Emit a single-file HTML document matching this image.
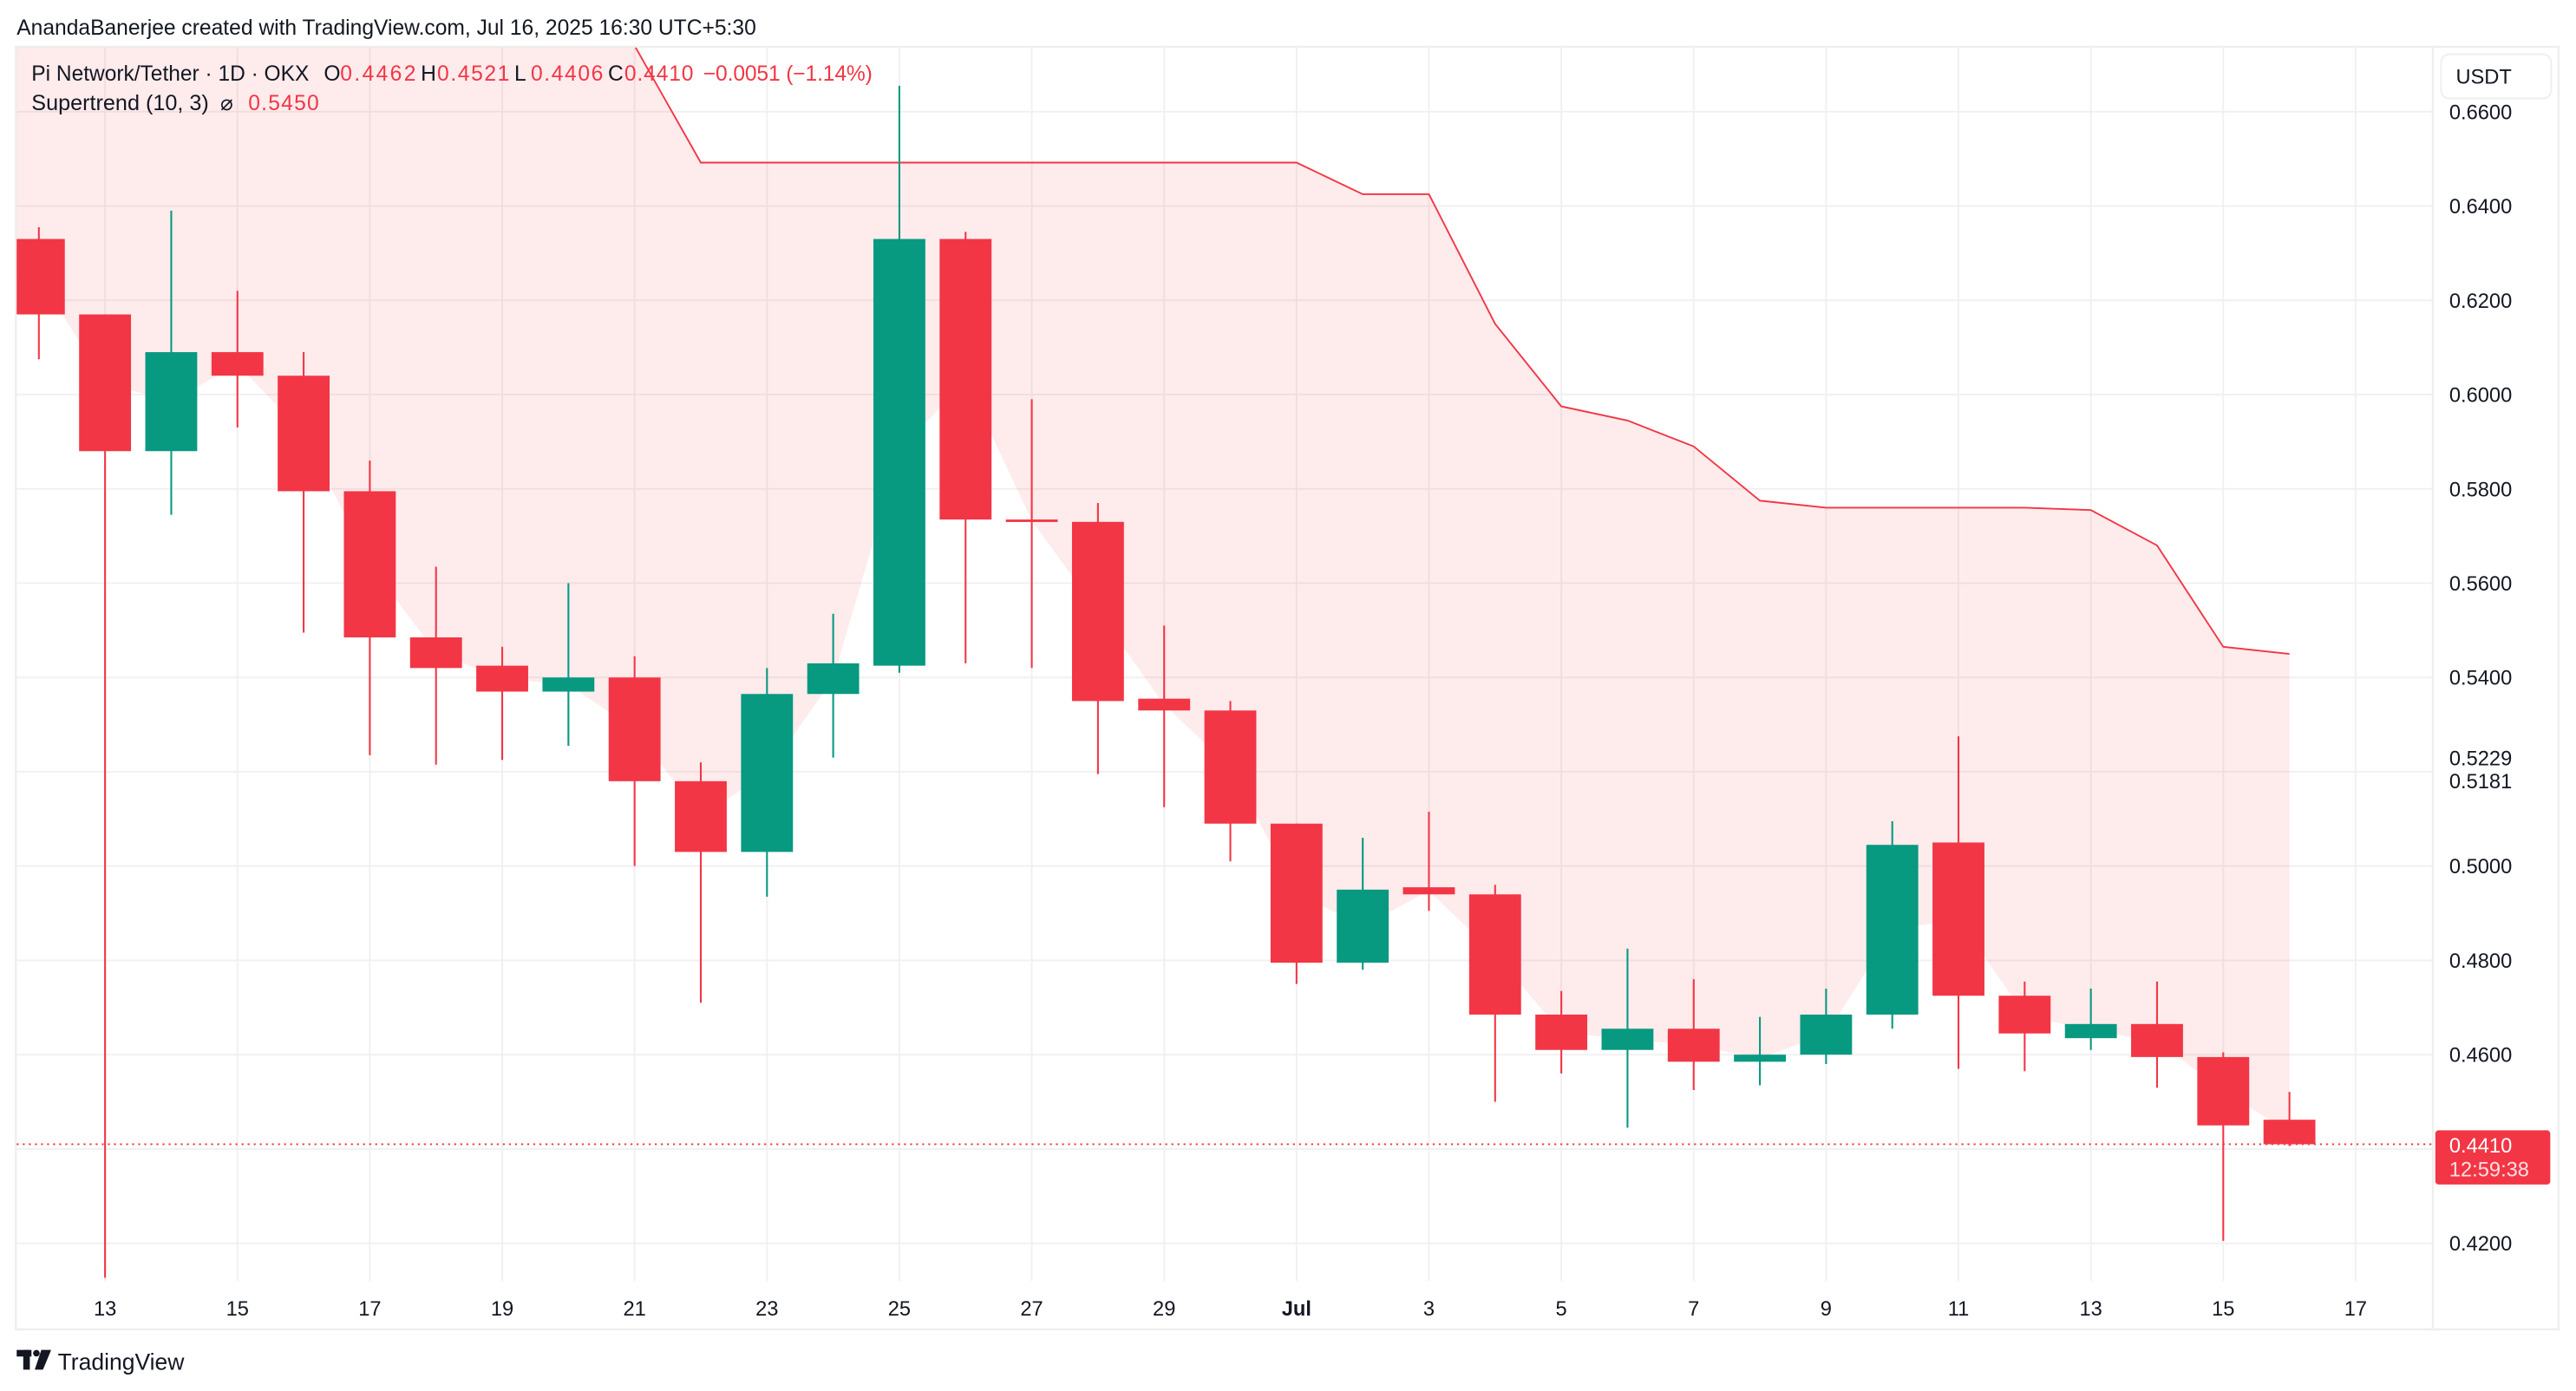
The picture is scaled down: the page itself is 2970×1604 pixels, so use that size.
<!DOCTYPE html>
<html><head><meta charset="utf-8">
<style>
html,body{margin:0;padding:0;background:#fff;width:2970px;height:1604px;overflow:hidden}
svg{display:block}
text{font-family:"Liberation Sans",sans-serif}
</style></head>
<body>
<svg id="chart" width="2970" height="1604" viewBox="0 0 1568 847" xmlns="http://www.w3.org/2000/svg">
<rect x="0" y="0" width="1568" height="847" fill="#fff"/>
<text x="10" y="21" font-size="13" fill="#131722">AnandaBanerjee created with TradingView.com, Jul 16, 2025 16:30 UTC+5:30</text>
<rect x="9.5" y="28.5" width="1548" height="781" fill="none" stroke="#eeeeee" stroke-width="1.2"/>
<line x1="1481" y1="28" x2="1481" y2="809" stroke="#eeeeee" stroke-width="1.2"/>
<defs><clipPath id="pane"><rect x="10" y="29" width="1471" height="751"/></clipPath></defs>
<g id="grid"></g>
<g id="plot" clip-path="url(#pane)"></g>
<g id="axes"></g>
<g font-size="13">
<text x="19" y="49" fill="#131722" textLength="169" lengthAdjust="spacingAndGlyphs">Pi Network/Tether · 1D · OKX</text>
<text x="197" y="49" fill="#131722">O</text><text x="207" y="49" fill="#f23645" textLength="46">0.4462</text>
<text x="256" y="49" fill="#131722">H</text><text x="266" y="49" fill="#f23645" textLength="44">0.4521</text>
<text x="313" y="49" fill="#131722">L</text><text x="323" y="49" fill="#f23645" textLength="44">0.4406</text>
<text x="370" y="49" fill="#131722">C</text><text x="380" y="49" fill="#f23645" textLength="42">0.4410</text>
<text x="428" y="49" fill="#f23645" textLength="103">−0.0051 (−1.14%)</text>
<text x="19" y="67" fill="#131722" textLength="108" lengthAdjust="spacingAndGlyphs">Supertrend (10, 3)</text>
<text x="134" y="67" fill="#131722">⌀</text>
<text x="151" y="67" fill="#f23645" textLength="43">0.5450</text>
</g>
<g>
<rect x="1486" y="33" width="67" height="27" rx="5" fill="#fff" stroke="#eeeeee"/>
<text x="1495" y="51" font-size="12.5" fill="#131722">USDT</text>
</g>
<g>
<rect x="10" y="822" width="9" height="4" fill="#131722"/><rect x="14" y="822" width="4" height="12" fill="#131722"/>
<circle cx="22" cy="824" r="2" fill="#131722"/><polygon points="25,822 31,822 26,834 21,834" fill="#131722"/>
<text x="35" y="834" font-size="14" fill="#131722">TradingView</text>
</g>
</svg>
<script>
const dates = ["12","13","14","15","16","17","18","19","20","21","22","23","24","25","26","27","28","29","30","Jul","2","3","4","5","6","7","8","9","10","11","12","13","14","15","16"];
const opens  = [0.6330,0.6170,0.5880,0.6090,0.6040,0.5795,0.5485,0.5425,0.5370,0.5400,0.5180,0.5030,0.5365,0.5425,0.6330,0.5735,0.5730,0.5355,0.5330,0.5090,0.4795,0.4955,0.4940,0.4685,0.4610,0.4655,0.4585,0.4600,0.4685,0.5050,0.4725,0.4635,0.4665,0.4595,0.4462];
const highs  = [0.6355,0.6170,0.6390,0.6220,0.6090,0.5860,0.5635,0.5465,0.5600,0.5445,0.5220,0.5420,0.5535,0.6655,0.6345,0.5990,0.5770,0.5510,0.5350,0.5090,0.5060,0.5115,0.4960,0.4735,0.4825,0.4760,0.4680,0.4740,0.5095,0.5275,0.4755,0.4740,0.4755,0.4605,0.4521];
const lows   = [0.6075,0.4127,0.5745,0.5930,0.5495,0.5235,0.5215,0.5225,0.5255,0.5000,0.4710,0.4935,0.5230,0.5410,0.5430,0.5420,0.5195,0.5125,0.5010,0.4750,0.4780,0.4905,0.4500,0.4560,0.4445,0.4525,0.4535,0.4580,0.4655,0.4570,0.4565,0.4610,0.4530,0.4205,0.4406];
const closes = [0.6170,0.5880,0.6090,0.6040,0.5795,0.5485,0.5420,0.5370,0.5400,0.5180,0.5030,0.5365,0.5430,0.6330,0.5735,0.5730,0.5350,0.5330,0.5090,0.4795,0.4950,0.4940,0.4685,0.4610,0.4655,0.4585,0.4600,0.4685,0.5045,0.4725,0.4645,0.4665,0.4595,0.4450,0.4410];
const supertrend = [0.7300,0.7250,0.7200,0.7150,0.7100,0.7000,0.6900,0.6850,0.6800,0.6740,0.6492,0.6492,0.6492,0.6492,0.6492,0.6492,0.6492,0.6492,0.6492,0.6492,0.6425,0.6425,0.6150,0.5975,0.5945,0.5890,0.5775,0.5760,0.5760,0.5760,0.5760,0.5755,0.5680,0.5465,0.5450];
const priceTicks = [0.66,0.64,0.62,0.60,0.58,0.56,0.54,0.50,0.48,0.46,0.42];
const extraPriceLabels = [0.5229,0.5181];
const lastPrice = 0.4410;
const countdown = "12:59:38";

const NS="http://www.w3.org/2000/svg";
const xOf = i => 23.5 + 40.3*i;
const yOf = p => 68 + (0.66 - p)/0.02*57.42;
function mk(tag, attrs, parent){const e=document.createElementNS(NS,tag);for(const k in attrs)e.setAttribute(k,attrs[k]);parent.appendChild(e);return e;}
const grid=document.getElementById('grid'), plot=document.getElementById('plot'), axes=document.getElementById('axes');
const UP="#089981", DN="#f23645";

for(let p=0.42;p<=0.6601;p+=0.02){
  const l=mk('line',{x1:10,x2:1481,y1:yOf(p),y2:yOf(p),stroke:"#f0f0f0","stroke-width":1},grid);
  
  
}
priceTicks.forEach(p=>{
  const t=mk('text',{x:1491,y:yOf(p)+4.5,"font-size":12.5,fill:"#131722"},axes);
  t.textContent=p.toFixed(4);
  
  
});
extraPriceLabels.forEach(p=>{
  const t=mk('text',{x:1491,y:yOf(p)+4.5,"font-size":12.5,fill:"#131722"},axes);
  t.textContent=p.toFixed(4);
  
  
});
for(let i=1;i<=36;i+=2){
  const x=xOf(i);
  const l=mk('line',{x1:x,x2:x,y1:29,y2:780,stroke:"#f0f0f0","stroke-width":1},grid);
  
  
  const lab = i<dates.length ? dates[i] : String(17);
  const t=mk('text',{x:x,y:801,"font-size":12.5,fill:"#131722","text-anchor":"middle","font-weight":lab==="Jul"?"bold":"normal"},axes);
  t.textContent=lab;
  
  
}
// supertrend fill between line and body mid, extended to pane left edge
let pts=["0,"+yOf(supertrend[0])];
supertrend.forEach((v,i)=>pts.push(xOf(i)+","+yOf(v)));
for(let i=supertrend.length-1;i>=0;i--) pts.push(xOf(i)+","+yOf((opens[i]+closes[i])/2));
pts.push("0,"+yOf((opens[0]+closes[0])/2));
const fill=mk('polygon',{points:pts.join(" "),fill:"rgba(242,54,69,0.1)"},plot);


const ln=mk('polyline',{points:supertrend.map((v,i)=>xOf(i)+","+yOf(v)).join(" "),fill:"none",stroke:DN,"stroke-width":1},plot);


opens.forEach((o,i)=>{
  const c=closes[i], col=c>=o?UP:DN, x=xOf(i);
  const g=mk('g',{},plot);
  
  
  mk('line',{x1:x,x2:x,y1:yOf(highs[i]),y2:yOf(lows[i]),stroke:col,"stroke-width":1.1},g);
  const top=yOf(Math.max(o,c)), h=Math.max(1.5,Math.abs(yOf(o)-yOf(c)));
  mk('rect',{x:x-15.8,y:top,width:31.6,height:h,fill:col},g);
});
const ly=yOf(lastPrice);
const pl=mk('line',{x1:10,x2:1481,y1:ly,y2:ly,stroke:DN,"stroke-width":1,"stroke-dasharray":"1.2 2.5"},axes);


const bx=mk('g',{},axes);


mk('rect',{x:1482.5,y:ly-8.5,width:70,height:33,rx:2,fill:DN},bx);
const t1=mk('text',{x:1491,y:ly+5,"font-size":12.5,fill:"#fff"},bx); t1.textContent=lastPrice.toFixed(4);
const t2=mk('text',{x:1491,y:ly+19.5,"font-size":12.5,fill:"#fde0e2"},bx); t2.textContent=countdown;
</script>
</body></html>
